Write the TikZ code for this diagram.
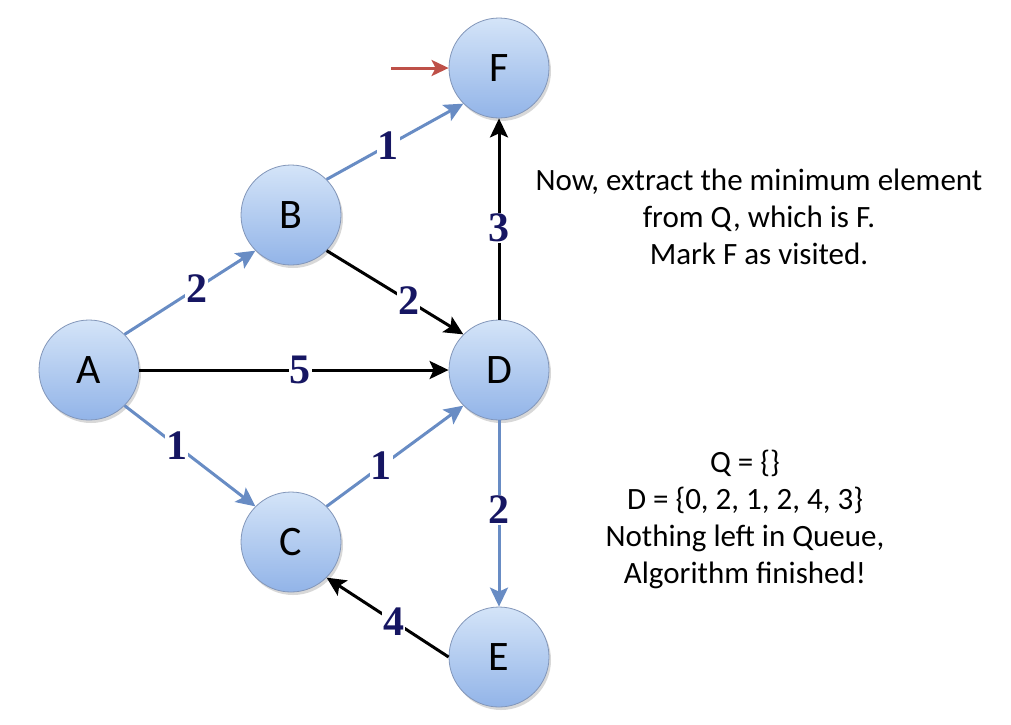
\documentclass[tikz,border=0pt]{standalone}
\usepackage{fontspec}
\setmainfont{Carlito}
\newfontfamily\labelfont{Liberation Serif}
\usetikzlibrary{arrows.meta,shadows}

\definecolor{nodetop}{RGB}{212,228,248}
\definecolor{nodebot}{RGB}{146,180,232}
\definecolor{nodeedge}{RGB}{130,150,185}
\definecolor{edgeblue}{RGB}{104,140,196}
\definecolor{weightnavy}{RGB}{22,22,98}
\definecolor{markred}{RGB}{190,80,72}

\tikzset{
  vertex/.style={circle, minimum size=100pt, inner sep=0pt, draw=nodeedge,
    line width=0.8pt, top color=nodetop, bottom color=nodebot,
    drop shadow={shadow xshift=2pt, shadow yshift=-3pt, fill=black!30},
    font=\fontsize{42}{42}\selectfont},
  wedge/.style={line width=3pt, -{Stealth[length=19pt, width=18pt, inset=4pt]}},
  visited/.style={wedge, draw=edgeblue},
  pending/.style={wedge, draw=black},
  weight/.style={fill=white, inner sep=1pt, text=weightnavy,
    font=\labelfont\bfseries\fontsize{42}{42}\selectfont},
  note/.style={align=center, font=\fontsize{31}{37}\selectfont}
}

\begin{document}
\begin{tikzpicture}[x=1pt, y=-1pt]
  \useasboundingbox (0,0) rectangle (1011,724);

  % Vertices
  \node[vertex] (A) at (89,370) {A};
  \node[vertex] (B) at (291,215) {B};
  \node[vertex] (C) at (291,542) {C};
  \node[vertex] (D) at (499,370) {D};
  \node[vertex] (E) at (499,657) {E};
  \node[vertex] (F) at (499,68) {F};

  % Edges with weights
  \draw[visited] (A.north east) -- node[weight, pos=0.55] {2} (B.south west);
  \draw[visited] (B.north east) -- node[weight, pos=0.45] {1} (F.south west);
  \draw[pending] (B.south east) -- node[weight, pos=0.6] {2} (D.north west);
  \draw[pending] (A.east) -- node[weight, pos=0.52] {5} (D.west);
  \draw[visited] (A.south east) -- node[weight, pos=0.4] {1} (C.north west);
  \draw[visited] (C.north east) -- node[weight, pos=0.4] {1} (D.south west);
  \draw[pending] (D.north) -- node[weight, pos=0.455] {3} (F.south);
  \draw[visited] (D.south) -- node[weight, pos=0.48] {2} (E.north);
  \draw[pending] (E.west) -- node[weight, pos=0.45] {4} (C.south east);

  % Current vertex marker
  \coordinate (mark) at (391,68);
  \draw[line width=3pt, draw=markred, -{Stealth[length=17pt, width=16pt, inset=4pt]}]
    (mark) -- (F.west);

  % Notes
  \node[note] (step) at (759,217) {Now, extract the minimum element\\
    from Q, which is F.\\ Mark F as visited.};
  \node[note] (state) at (745,519) {Q = \{\}\\ D = \{0, 2, 1, 2, 4, 3\}\\
    Nothing left in Queue,\\ Algorithm finished!};

\end{tikzpicture}
\end{document}
